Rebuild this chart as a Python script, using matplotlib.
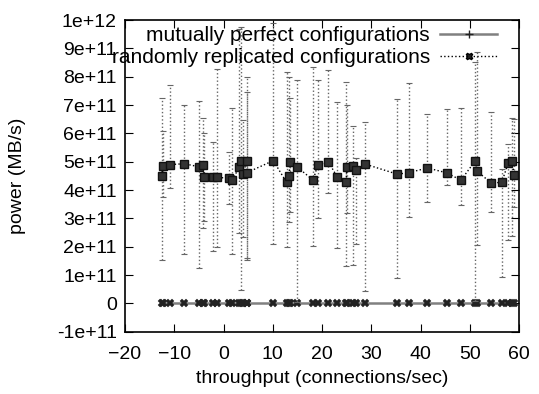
#!/usr/bin/env python3
"""Power vs throughput for the two configuration strategies (gnuplot-style)."""

import matplotlib

matplotlib.use("Agg")
import matplotlib.pyplot as plt
from matplotlib.lines import Line2D
from matplotlib.ticker import FuncFormatter
import numpy as np

plt.rcParams["font.family"] = ["Liberation Sans", "DejaVu Sans"]

# throughput (connections/sec), shared by both series
THROUGHPUT = [-12.55, -12.35, -10.9, -8.0, -4.9, -4.1, -3.9, -2.2, -1.4, 1.1,
              1.7, 3.2, 3.5, 4.0, 4.7, 4.8, 10.1, 12.8, 13.3, 13.5,
              14.9, 18.2, 19.1, 21.3, 23.1, 24.9, 25.0, 26.2, 26.9, 28.7,
              35.3, 37.7, 41.4, 45.3, 48.2, 51.1, 51.4, 54.4, 56.5, 57.8,
              58.6, 59.0]

# mutually perfect configurations: power (MB/s)
PERFECT_POWER = [0.0] * len(THROUGHPUT)

# randomly replicated configurations: mean, low, high (units of 1e11 MB/s)
RANDOM_POWER = [4.50, 4.85, 4.90, 4.93, 4.82, 4.89, 4.47, 4.45, 4.45, 4.42,
                4.35, 4.80, 5.03, 4.58, 5.03, 4.62, 5.04, 4.27, 4.49, 5.00,
                4.82, 4.35, 4.88, 5.00, 4.45, 4.27, 4.80, 4.85, 4.71, 4.92,
                4.56, 4.62, 4.78, 4.61, 4.35, 5.03, 4.68, 4.24, 4.28, 4.96,
                5.02, 4.53]
RANDOM_LOW = [1.53, 3.76, 4.06, 1.73, 1.26, 2.65, 2.90, 1.85, 2.00, 3.50,
              1.76, 2.47, 0.47, 2.35, 1.59, 1.55, 2.08, 2.00, 2.88, 3.23,
              0.05, 2.02, 3.00, 3.88, 1.94, 1.32, 3.20, 1.35, 2.09, 0.45,
              0.88, 3.06, 3.59, 4.18, 3.47, 0.10, 2.06, 3.21, 0.94, 2.23,
              2.38, 3.39]
RANDOM_HIGH = [7.26, 6.08, 7.70, 7.00, 7.14, 6.53, 6.00, 5.70, 8.29, 5.35,
               6.90, 9.70, 9.75, 6.47, 7.47, 8.00, 9.90, 8.17, 8.00, 7.24,
               7.88, 8.35, 7.90, 8.24, 7.12, 7.82, 7.00, 6.26, 5.12, 6.41,
               7.20, 7.79, 6.68, 6.86, 6.88, 8.53, 8.88, 6.74, 4.74, 5.61,
               6.53, 6.50]
SCALE = 1e11

LABELS = ["mutually perfect configurations",
          "randomly replicated configurations"]


def sci_label(value, _pos):
  if abs(value) < 1:
    return "0"
  exp = int(np.floor(np.log10(abs(value)) + 1e-9))
  mant = value / 10 ** exp
  return f"{mant:.0f}e+{exp:02d}"


def main():
  fig = plt.figure(figsize=(5.39, 3.94), dpi=100)
  ax = fig.add_axes([0.232, 0.158, 0.731, 0.791])
  fs = 14

  x = np.array(THROUGHPUT)
  y = np.array(RANDOM_POWER) * SCALE
  lo = np.array(RANDOM_LOW) * SCALE
  hi = np.array(RANDOM_HIGH) * SCALE

  ax.plot(x, np.array(PERFECT_POWER), color="#808080", linewidth=1.8,
          zorder=2)
  ax.plot(x, np.array(PERFECT_POWER), linestyle="none", marker="X",
          markersize=5.5, color="#222222", markeredgewidth=0.3, zorder=3)

  cont = ax.errorbar(
      x, y, yerr=[y - lo, hi - y], fmt="s", linestyle=":", color="black",
      linewidth=1.0, markersize=6, markerfacecolor="#333333",
      markeredgecolor="#111111", ecolor="#666666", elinewidth=1.0,
      capsize=2.5, capthick=0.8, zorder=4)
  for coll in cont[2]:
    coll.set_linestyle(":")

  ax.set_xlim(-20, 60)
  ax.set_ylim(-1e11, 1e12)
  ax.set_xticks(np.arange(-20, 61, 10))
  ax.set_yticks(np.arange(-1e11, 1.01e12, 1e11))
  ax.yaxis.set_major_formatter(FuncFormatter(sci_label))
  ax.tick_params(direction="in", length=6, width=0.8, top=True, right=True,
                 labelsize=fs, pad=6)
  ax.tick_params(axis="x", pad=10)
  for spine in ax.spines.values():
    spine.set_linewidth(1.2)

  ax.set_xlabel("throughput (connections/sec)", fontsize=fs, labelpad=5)
  ax.set_ylabel("power (MB/s)", fontsize=fs, labelpad=22)

  handles = [
      Line2D([], [], color="#808080", linewidth=1.8, marker="+",
             markersize=6, markeredgecolor="#222222"),
      Line2D([], [], color="black", linestyle=":", linewidth=1.0,
             marker="X", markersize=5, markerfacecolor="#222222"),
  ]
  ax.legend(handles, LABELS, loc="upper right", bbox_to_anchor=(0.975, 1.02),
            frameon=False, fontsize=15, markerfirst=False, handlelength=2.7,
            labelspacing=0.15, borderaxespad=0.2, handletextpad=0.5)

  fig.savefig("out.png", dpi=100)
  plt.close(fig)


if __name__ == "__main__":
  main()
